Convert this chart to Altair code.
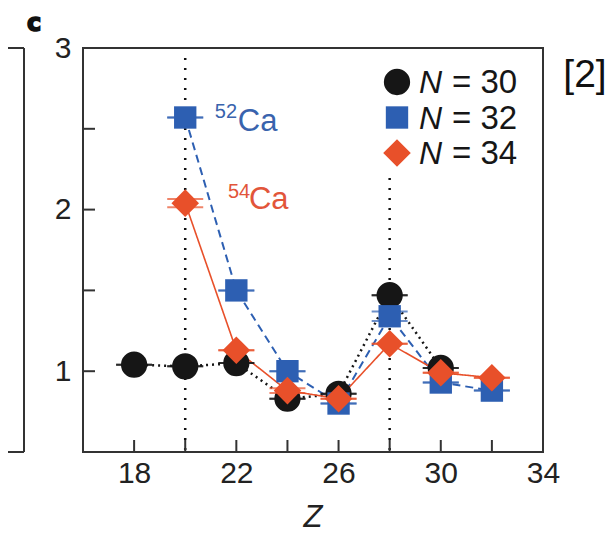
import altair as alt
import pandas as pd

# ---- data ----
series_n = ["30", "32", "34"]
z_n30 = [18, 20, 22, 24, 26, 28, 30]
y_n30 = [1.04, 1.03, 1.05, 0.83, 0.86, 1.47, 1.02]
e_n30 = [0.0, 0.0, 0.0, 0.0, 0.0, 0.0, 0.0]

z_n32 = [20, 22, 24, 26, 28, 30, 32]
y_n32 = [2.57, 1.50, 1.00, 0.80, 1.34, 0.93, 0.88]
e_n32 = [0.0, 0.0, 0.0, 0.0, 0.03, 0.0, 0.0]

z_n34 = [20, 22, 24, 26, 28, 30, 32]
y_n34 = [2.04, 1.13, 0.88, 0.83, 1.17, 0.99, 0.96]
e_n34 = [0.025, 0.0, 0.015, 0.0, 0.0, 0.0, 0.0]

vline_z = [20, 28]
x_tick_values = [18, 20, 22, 24, 26, 28, 30, 32]
x_label_values = [18, 22, 26, 30, 34]
y_tick_values = [1, 1.5, 2, 2.5]
y_label_values = [1, 2, 3]

ann_mass = ["52", "54"]
ann_elem = ["Ca", "Ca"]
ann_z = [21.16, 21.67]
ann_y = [2.57, 2.04]

# ---- styles ----
colors = ["#161616", "#2d5fb2", "#e8502a"]
text_colors = ["#161616", "#3963ad", "#e2553a"]
shapes = ["circle", "square", "diamond"]
sizes = [690, 500, 760]
dashes = [[2, 4], [8, 5], [1, 0]]
widths = [2.5, 2, 1.6]
FONT = "Liberation Sans"

all_z = [z_n30, z_n32, z_n34]
all_y = [y_n30, y_n32, y_n34]
all_e = [e_n30, e_n32, e_n34]

x_scale = alt.Scale(domain=[16, 34], nice=False, zero=False)
y_scale = alt.Scale(domain=[0.5, 3], nice=False, zero=False)
x_axis = alt.Axis(values=x_label_values, labelFlush=False, title=None,
                  labelPadding=6)
y_axis = alt.Axis(values=y_label_values, labelFlush=False, title=None,
                  labelPadding=12)

x_enc = alt.X("Z:Q", scale=x_scale, axis=x_axis)
y_enc = alt.Y("y:Q", scale=y_scale, axis=y_axis)

one = pd.DataFrame({"k": [0]})
layers = []

# vertical dotted guide lines
layers.append(
    alt.Chart(pd.DataFrame({"Z": vline_z}))
    .mark_rule(color="#111111", strokeWidth=2.5, strokeDash=[2, 8])
    .encode(x=x_enc, y=alt.value(10), y2=alt.value(404))
)

# inward ticks
layers.append(
    alt.Chart(pd.DataFrame({"Z": x_tick_values}))
    .mark_rule(color="#333333", strokeWidth=2)
    .encode(x=x_enc, y=alt.value(404), y2=alt.value(392))
)
layers.append(
    alt.Chart(pd.DataFrame({"y": y_tick_values}))
    .mark_rule(color="#333333", strokeWidth=2)
    .encode(y=y_enc, x=alt.value(0), x2=alt.value(12))
)

frames = []
for i, n in enumerate(series_n):
    df = pd.DataFrame({"Z": all_z[i], "y": all_y[i], "err": all_e[i]})
    df["lo"] = df["y"] - df["err"]
    df["hi"] = df["y"] + df["err"]
    frames.append(df)

# connecting lines
for i, df in enumerate(frames):
    layers.append(
        alt.Chart(df)
        .mark_line(color=colors[i], strokeWidth=widths[i], strokeDash=dashes[i])
        .encode(x=x_enc, y=y_enc)
    )

# error caps + markers
for i, df in enumerate(frames):
    for col in ["lo", "hi"]:
        layers.append(
            alt.Chart(df)
            .mark_tick(orient="horizontal", color=colors[i], size=36, thickness=2)
            .encode(x=x_enc, y=alt.Y(f"{col}:Q", scale=y_scale, axis=y_axis))
        )
    layers.append(
        alt.Chart(df)
        .mark_point(filled=True, shape=shapes[i], size=sizes[i], color=colors[i],
                    opacity=1, strokeWidth=0)
        .encode(x=x_enc, y=y_enc)
    )

# annotations 52Ca / 54Ca
ann_offsets = [(23, 1, 14), (21, -5, 6)]
for i in range(2):
    c = text_colors[i + 1]
    adf = pd.DataFrame({"Z": [ann_z[i]], "y": [ann_y[i]],
                        "mass": [ann_mass[i]], "elem": [ann_elem[i]]})
    dx, dy_mass, dy_elem = ann_offsets[i]
    layers.append(
        alt.Chart(adf)
        .mark_text(align="left", baseline="alphabetic", font=FONT, fontSize=20,
                   color=c, dy=dy_mass)
        .encode(x=x_enc, y=y_enc, text="mass:N")
    )
    layers.append(
        alt.Chart(adf)
        .mark_text(align="left", baseline="alphabetic", font=FONT, fontSize=31,
                   color=c, dx=dx, dy=dy_elem)
        .encode(x=x_enc, y=y_enc, text="elem:N")
    )

# legend box (white) and entries
layers.append(
    alt.Chart(one).mark_rect(color="white")
    .encode(x=alt.value(297), x2=alt.value(444), y=alt.value(10), y2=alt.value(124))
)
for i, n in enumerate(series_n):
    ly = 34 + 35.5 * i
    ldf = pd.DataFrame({"N": ["N"], "lab": [f"= {n}"]})
    layers.append(
        alt.Chart(ldf)
        .mark_point(filled=True, shape=shapes[i], size=sizes[i], color=colors[i],
                    opacity=1, strokeWidth=0)
        .encode(x=alt.value(314), y=alt.value(ly))
    )
    layers.append(
        alt.Chart(ldf)
        .mark_text(align="left", baseline="middle", font=FONT, fontSize=32,
                   fontStyle="italic", color="#161616")
        .encode(x=alt.value(336), y=alt.value(ly + 1), text="N:N")
    )
    layers.append(
        alt.Chart(ldf)
        .mark_text(align="left", baseline="middle", font=FONT, fontSize=33,
                   color="#161616")
        .encode(x=alt.value(369), y=alt.value(ly + 1), text="lab:N")
    )

# panel letter, reference tag, axis title, neighbouring panel frame
layers.append(
    alt.Chart(pd.DataFrame({"t": ["c"]}))
    .mark_text(align="left", baseline="alphabetic", font="DejaVu Sans",
               fontWeight="bold", fontSize=24, color="#111111",
               stroke="#111111", strokeWidth=1.6)
    .encode(x=alt.value(-56), y=alt.value(-17), text="t:N")
)
layers.append(
    alt.Chart(pd.DataFrame({"t": ["[2]"]}))
    .mark_text(align="center", baseline="alphabetic", font=FONT, fontSize=39,
               color="#111111")
    .encode(x=alt.value(502), y=alt.value(39), text="t:N")
)
layers.append(
    alt.Chart(pd.DataFrame({"t": ["Z"]}))
    .mark_text(align="center", baseline="alphabetic", font=FONT, fontSize=31,
               fontStyle="italic", color="#222222")
    .encode(x=alt.value(230), y=alt.value(479), text="t:N")
)
layers.append(
    alt.Chart(one).mark_rule(color="#333333", strokeWidth=2)
    .encode(x=alt.value(-59), y=alt.value(0), y2=alt.value(404))
)
layers.append(
    alt.Chart(one).mark_rule(color="#333333", strokeWidth=2)
    .encode(x=alt.value(-100), x2=alt.value(-59), y=alt.value(0))
)
layers.append(
    alt.Chart(one).mark_rule(color="#333333", strokeWidth=2)
    .encode(x=alt.value(-100), x2=alt.value(-59), y=alt.value(404))
)

chart = (
    alt.layer(*layers)
    .properties(
        width=460,
        height=404,
        autosize=alt.AutoSizeParams(type="none"),
        padding={"left": 75, "top": 40, "right": 64, "bottom": 82},
    )
    .configure_view(stroke="#333333", strokeWidth=2)
    .configure_axis(
        grid=False, domain=False, ticks=False,
        labelFont=FONT, labelFontSize=30, labelColor="#222222",
    )
)

chart.save("out.html", embed_options={"renderer": "svg", "actions": False})
